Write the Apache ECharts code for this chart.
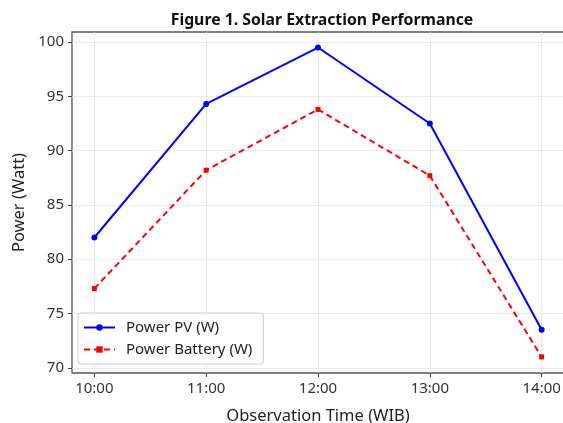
<!DOCTYPE html>
<html><head><meta charset="utf-8">
<script src="https://cdn.jsdelivr.net/npm/echarts@6/dist/echarts.min.js"></script>
<style>html,body{margin:0;padding:0;background:#fff}#c{width:563px;height:423px}</style>
</head><body><div id="c"></div>
<script>
const times = ['10:00','11:00','12:00','13:00','14:00'];
const powerPV = [82.0, 94.3, 99.5, 92.5, 73.5];
const powerBattery = [77.3, 88.2, 93.8, 87.7, 71.0];
const yTicks = [70, 75, 80, 85, 90, 95, 100];
const xTicks = [0, 1, 2, 3, 4];

const F = 'Noto Sans';
const chart = echarts.init(document.getElementById('c'), null, {renderer:'canvas'});
chart.setOption({
  animation:false,
  backgroundColor:'#fff',
  title:{text:'Figure 1. Solar Extraction Performance', left:317, top:7, textAlign:'center',
    textStyle:{fontFamily:F, fontWeight:'bold', fontSize:15.8, color:'#111'}},
  grid:{left:72, right:-1, top:32, bottom:50, containLabel:false, outerBoundsMode:'none',
    show:true, borderColor:'#555', borderWidth:1.3, backgroundColor:'#fff'},
  legend:{orient:'vertical', left:78, top:313, itemWidth:31, itemHeight:8, itemGap:7,
    padding:[7,11,7,5], backgroundColor:'#fff', borderColor:'#ccc', borderWidth:1, borderRadius:3,
    textStyle:{fontFamily:F, fontSize:15, color:'#222', padding:[0,0,0,6]},
    data:['Power PV (W)','Power Battery (W)']},
  xAxis:{type:'value', min:-0.2, max:4.2,
    name:'Observation Time (WIB)', nameLocation:'middle', nameGap:35,
    nameTextStyle:{fontFamily:F, fontSize:16.5, color:'#222'},
    axisLine:{show:false, onZero:false},
    axisTick:{show:true, customValues:xTicks, length:4, lineStyle:{color:'#444'}},
    axisLabel:{customValues:xTicks, formatter:v=>times[Math.round(v)], fontFamily:F, fontSize:15, color:'#333', margin:8},
    splitLine:{show:true, lineStyle:{color:'#e6e6e6', width:0.8}}},
  yAxis:{type:'value', min:69.52, max:100.93,
    name:'Power (Watt)', nameLocation:'middle', nameGap:44,
    nameTextStyle:{fontFamily:F, fontSize:16.5, color:'#222'},
    axisLine:{show:false, onZero:false},
    axisTick:{show:true, customValues:yTicks, length:4, lineStyle:{color:'#444'}},
    axisLabel:{customValues:yTicks, fontFamily:F, fontSize:15, color:'#333', margin:8},
    splitLine:{show:true, lineStyle:{color:'#e6e6e6', width:0.8}}},
  series:[
    {name:'Power PV (W)', type:'line', data:powerPV.map((v,i)=>[xTicks[i],v]),
     symbol:'circle', symbolSize:6, showSymbol:true,
     lineStyle:{color:'#0000ff', width:2}, itemStyle:{color:'#0000ff'}},
    {name:'Power Battery (W)', type:'line', data:powerBattery.map((v,i)=>[xTicks[i],v]),
     symbol:'rect', symbolSize:5, showSymbol:true,
     lineStyle:{color:'#ff0000', width:2, type:[6,4]}, itemStyle:{color:'#ff0000'}}
  ]
});
</script></body></html>
